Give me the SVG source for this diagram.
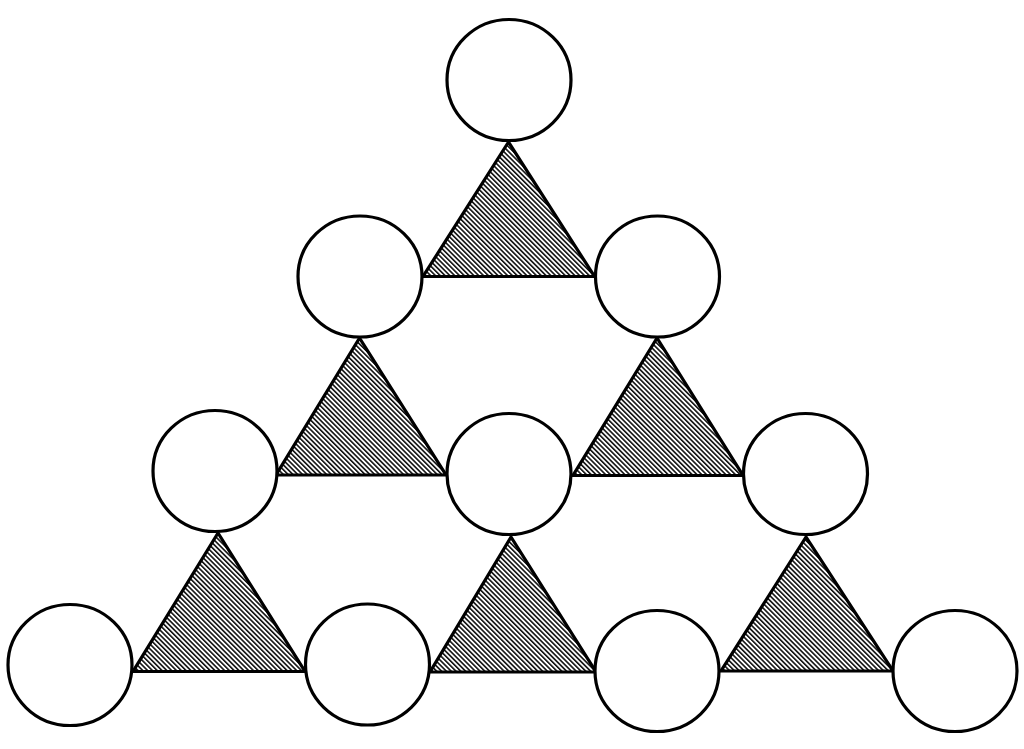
<svg xmlns="http://www.w3.org/2000/svg" width="1024" height="749" viewBox="0 0 1024 749">
<style>
.node{fill:#ffffff;stroke:#000000;stroke-width:3.2}
.tri{fill:url(#hatch);stroke:#000000;stroke-width:3.2;stroke-linejoin:miter}
</style>
<defs>
<pattern id="hatch" width="3.4" height="3.4" patternUnits="userSpaceOnUse" patternTransform="rotate(-45)">
<rect width="3.4" height="3.4" fill="#ffffff"/>
<line x1="0.8" y1="0" x2="0.8" y2="3.4" stroke="#000000" stroke-width="1.5"/>
</pattern>
</defs>
<rect width="1024" height="749" fill="#ffffff"/>
<g id="triangles">
<g id="t0"><polygon class="tri" points="508.5,142 423,276.5 594.5,276.5"/></g>
<g id="t1"><polygon class="tri" points="359.5,338 276,475 446,475"/></g>
<g id="t2"><polygon class="tri" points="657,338 573,475.5 743,475.5"/></g>
<g id="t3"><polygon class="tri" points="218,533 133,671.5 305,671.5"/></g>
<g id="t4"><polygon class="tri" points="511,537 430,672 596,672"/></g>
<g id="t5"><polygon class="tri" points="806,537 721,671 893,671"/></g>
</g>
<g id="circles">
<g id="c0"><ellipse class="node" cx="509" cy="80" rx="62" ry="60.5"/></g>
<g id="c1"><ellipse class="node" cx="360" cy="276.5" rx="62" ry="60.5"/></g>
<g id="c2"><ellipse class="node" cx="657.5" cy="276.5" rx="62" ry="60.5"/></g>
<g id="c3"><ellipse class="node" cx="215" cy="471" rx="62" ry="60.5"/></g>
<g id="c4"><ellipse class="node" cx="509" cy="474" rx="62" ry="60.5"/></g>
<g id="c5"><ellipse class="node" cx="805.5" cy="474" rx="62" ry="60.5"/></g>
<g id="c6"><ellipse class="node" cx="70" cy="665" rx="62" ry="60.5"/></g>
<g id="c7"><ellipse class="node" cx="367.5" cy="664.5" rx="62" ry="60.5"/></g>
<g id="c8"><ellipse class="node" cx="657" cy="671" rx="62" ry="60.5"/></g>
<g id="c9"><ellipse class="node" cx="955" cy="671" rx="62" ry="60.5"/></g>
</g>
<g id="connectors"></g>
</svg>
